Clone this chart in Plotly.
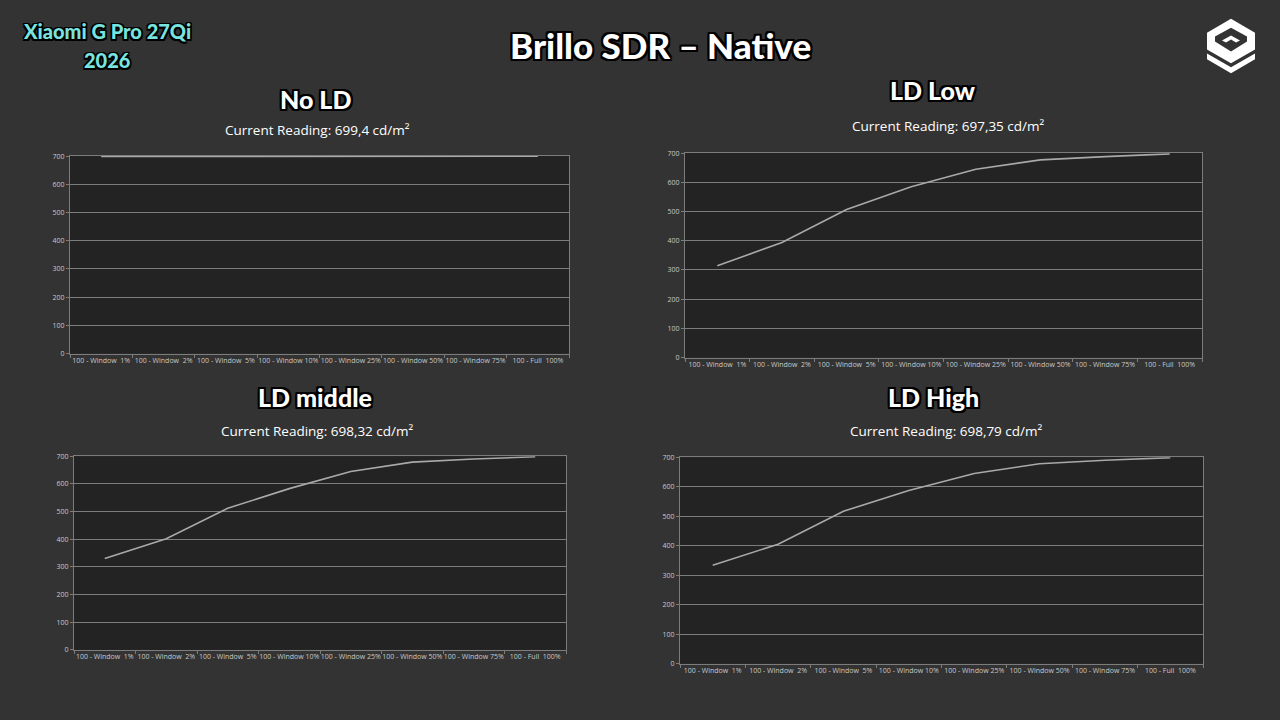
import plotly.graph_objects as go

W, H = 1280, 720

categories = ["100 - Window\u00a0\u00a01%", "100 - Window\u00a0\u00a02%", "100 - Window\u00a0\u00a05%",
              "100 - Window 10%", "100 - Window 25%", "100 - Window 50%",
              "100 - Window 75%", "100 - Full\u00a0\u00a0100%"]
no_ld = [698.5, 699, 699, 699, 699, 699, 699, 699.4]
ld_low = [314, 394, 507, 585, 645, 677, 688, 697.35]
ld_middle = [330, 402, 512, 583, 645, 679, 690, 698.32]
ld_high = [334, 405, 517, 587, 645, 678, 690, 698.79]
panel_titles = ["No LD", "LD Low", "LD middle", "LD High"]
readings = ["Current Reading: 699,4 cd/m²", "Current Reading: 697,35 cd/m²",
            "Current Reading: 698,32 cd/m²", "Current Reading: 698,79 cd/m²"]
y_ticks = [0, 100, 200, 300, 400, 500, 600, 700]

# plot-area boxes in pixels (left, right, top, bottom)
boxes = [(70, 569, 153, 353), (685, 1202, 150, 357), (74, 566, 457, 653), (680, 1203, 458, 667)]
title_pos = [(315, 95), (933, 86), (315, 397), (933, 397)]
reading_pos = [(317, 127), (948, 123), (317, 431), (946, 431)]

def px(x):
    return x / W

def py(y):
    return 1 - y / H

BG = "#333333"
PLOT_BG = "#232323"
GRID = "#7c7c7c"
TICKC = "#c8c8c8"

fig = go.Figure()
series = [no_ld, ld_low, ld_middle, ld_high]
for i, (vals, box) in enumerate(zip(series, boxes)):
    n = "" if i == 0 else str(i + 1)
    fig.add_trace(go.Scatter(x=categories, y=vals, mode="lines",
                             line=dict(color="#a9a9a9", width=1.6),
                             xaxis="x" + n, yaxis="y" + n, showlegend=False,
                             hoverinfo="skip"))
    l, r, t, b = box
    fig.layout["xaxis" + n] = dict(
        domain=[px(l), px(r)], anchor="y" + n, type="category",
        range=[-0.5, len(categories) - 0.5], showgrid=False,
        showline=True, linecolor=GRID, linewidth=1, mirror=True,
        ticks="outside", tickson="boundaries", ticklen=3, tickcolor=GRID,
        tickfont=dict(family="Open Sans", size=7, color=TICKC), tickangle=0,
        fixedrange=True, zeroline=False)
    fig.layout["yaxis" + n] = dict(
        domain=[py(b), py(t)], anchor="x" + n, range=[0, 700],
        tickvals=y_ticks, showgrid=True, gridcolor=GRID, gridwidth=1,
        showline=True, linecolor=GRID, linewidth=1, mirror=True,
        ticks="outside", ticklen=3, tickcolor=GRID,
        tickfont=dict(family="Open Sans", size=7, color=TICKC),
        fixedrange=True, zeroline=False)

outline = ("2px 2px 0 #000, -2px -2px 0 #000, 2px -2px 0 #000, -2px 2px 0 #000, "
           "0 2px 0 #000, 2px 0 0 #000, 0 -2px 0 #000, -2px 0 0 #000")
outline_s = ("1.5px 1.5px 0 #000, -1.5px -1.5px 0 #000, 1.5px -1.5px 0 #000, -1.5px 1.5px 0 #000, "
             "0 1.5px 0 #000, 1.5px 0 0 #000, 0 -1.5px 0 #000, -1.5px 0 0 #000")

ann = []
ann.append(dict(text="Brillo SDR – Native", x=px(660), y=py(41), xref="paper", yref="paper",
                showarrow=False, xanchor="center", yanchor="middle",
                font=dict(family="Lato", size=35, color="white", weight=900, shadow=outline)))
for t, yy in (("Xiaomi G Pro 27Qi", 26), ("2026", 56)):
    ann.append(dict(text=t, x=px(107), y=py(yy), xref="paper", yref="paper",
                    showarrow=False, xanchor="center", yanchor="middle",
                    font=dict(family="Lato", size=20, color="#78e3df", weight=900, shadow=outline_s)))
for t, (x, y) in zip(panel_titles, title_pos):
    ann.append(dict(text=t, x=px(x), y=py(y), xref="paper", yref="paper", showarrow=False,
                    xanchor="center", yanchor="middle",
                    font=dict(family="Lato", size=25, color="white", weight=900, shadow=outline)))
for t, (x, y) in zip(readings, reading_pos):
    ann.append(dict(text=t, x=px(x), y=py(y), xref="paper", yref="paper", showarrow=False,
                    xanchor="center", yanchor="middle",
                    font=dict(family="Open Sans", size=13.5, color="white")))

# logo (decorative), pixel offsets around center
LCX, LCY = 1231, 41

def poly(pts):
    return "M " + " L ".join(f"{px(LCX + dx)},{py(LCY - dy)}" for dx, dy in pts) + " Z"

outer_hex = [(0, 27), (24, 13), (24, -14), (0, -28), (-24, -14), (-24, 13)]
band = [(-24, -4), (0, -18), (24, -4), (24, -8), (0, -22), (-24, -8)]
hole = [(0, 18), (16, 9), (16, 4), (0, -6), (-16, 4), (-16, 9)]
chev = [(0, 10), (9, 5), (5, 3), (0, 6), (-5, 3), (-9, 5)]
shapes = [
    dict(type="path", path=poly(outer_hex), xref="paper", yref="paper", fillcolor="white", line=dict(width=0)),
    dict(type="path", path=poly(band), xref="paper", yref="paper", fillcolor=BG, line=dict(width=0)),
    dict(type="path", path=poly(hole), xref="paper", yref="paper", fillcolor=BG, line=dict(width=0)),
    dict(type="path", path=poly(chev), xref="paper", yref="paper", fillcolor="white", line=dict(width=0)),
]

fig.update_layout(width=W, height=H, margin=dict(l=0, r=0, t=0, b=0),
                  paper_bgcolor=BG, plot_bgcolor=PLOT_BG,
                  annotations=ann, shapes=shapes, showlegend=False)

fig.write_html("out.html", config={"displayModeBar": False})
